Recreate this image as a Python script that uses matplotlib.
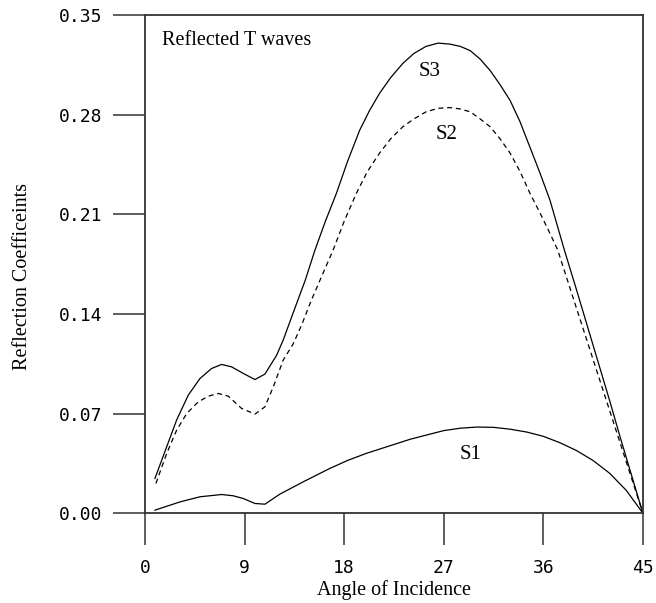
import numpy as np
import matplotlib
matplotlib.use("Agg")
import matplotlib.pyplot as plt

# S3 (solid, upper curve)
s3_x = [0.9, 1.96, 2.86, 3.91, 4.97, 6.03, 6.93, 7.83, 8.88, 9.94, 10.84, 11.9, 12.49,
        13.5, 14.5, 15.36, 16.3, 17.3, 18.3, 19.4, 20.3, 21.2, 22.2, 23.3, 24.3, 25.4,
        26.5, 27.55, 28.5, 29.4, 30.3, 31.2, 32.1, 33.0, 33.9, 34.8, 35.7, 36.6, 37.9,
        39.0, 40.0, 41.0, 42.0, 43.0, 44.0, 45.0]
s3_y = [0.0244, 0.0466, 0.0654, 0.0829, 0.0946, 0.1017, 0.1045, 0.1028, 0.0982, 0.0939,
        0.0977, 0.111, 0.1216, 0.143, 0.164, 0.1848, 0.205, 0.2247, 0.247, 0.269, 0.283,
        0.295, 0.306, 0.316, 0.323, 0.328, 0.3303, 0.3296, 0.328, 0.325, 0.319, 0.311,
        0.301, 0.290, 0.275, 0.257, 0.239, 0.220, 0.185, 0.157, 0.131, 0.105, 0.079,
        0.052, 0.026, 0.0]

# S2 (dashed)
s2_x = [0.99, 1.96, 2.86, 3.77, 4.82, 5.72, 6.62, 7.53, 8.73, 9.94, 10.84, 11.6, 12.49,
        13.4, 14.2, 15.0, 16.0, 17.0, 18.0, 19.1, 20.1, 21.2, 22.2, 23.3, 24.3, 25.4,
        26.5, 27.55, 28.5, 29.4, 30.3, 31.2, 32.1, 33.0, 33.9, 34.8, 35.7, 36.6, 37.3,
        38.5, 40.0, 41.5, 43.0, 45.0]
s2_y = [0.0209, 0.0419, 0.0583, 0.070, 0.0782, 0.0822, 0.0841, 0.0822, 0.0736, 0.0696,
        0.0747, 0.0888, 0.1075, 0.119, 0.133, 0.149, 0.167, 0.1848, 0.205, 0.2247, 0.240,
        0.253, 0.263, 0.2715, 0.277, 0.282, 0.2845, 0.285, 0.284, 0.282, 0.277, 0.2715,
        0.263, 0.253, 0.240, 0.2247, 0.211, 0.1966, 0.185, 0.156, 0.120, 0.084, 0.048,
        0.0]

# S1 (solid, lower curve)
s1_x = [0.9, 3.16, 4.97, 6.93, 7.98, 8.88, 9.94, 10.84, 12.2, 14.3, 16.7, 18.3, 20.0,
        22.0, 24.0, 25.5, 27.0, 28.5, 30.0, 31.5, 33.0, 34.5, 36.0, 37.5, 39.0, 40.5,
        42.0, 43.5, 45.0]
s1_y = [0.0021, 0.0079, 0.0115, 0.0131, 0.0122, 0.0103, 0.0068, 0.0063, 0.0134, 0.022,
        0.0314, 0.037, 0.042, 0.047, 0.052, 0.055, 0.058, 0.0597, 0.0605, 0.0603, 0.059,
        0.057, 0.054, 0.0495, 0.044, 0.037, 0.028, 0.016, 0.0]

x_ticks = [0, 9, 18, 27, 36, 45]
y_ticks = [0.00, 0.07, 0.14, 0.21, 0.28, 0.35]

serif = ["Liberation Serif", "DejaVu Serif"]
mono = ["DejaVu Sans Mono"]

fig = plt.figure(figsize=(6.56, 6.03), dpi=100)
ax = fig.add_axes([0.221, 0.149, 0.759, 0.826])

ax.plot(s3_x, s3_y, color="black", lw=0.9)
ax.plot(s2_x, s2_y, color="black", lw=0.9, ls=(0, (4, 3)))
ax.plot(s1_x, s1_y, color="black", lw=0.9)

ax.set_xlim(0, 45)
ax.set_ylim(0, 0.35)
ax.set_xticks(x_ticks)
ax.set_xticklabels([str(t) for t in x_ticks], family=mono, fontsize=13)
ax.set_yticks(y_ticks)
ax.set_yticklabels([f"{t:.2f}" for t in y_ticks], family=mono, fontsize=13)
ax.tick_params(axis="both", direction="out", length=23, width=1.1, color="#333333")
ax.tick_params(axis="x", pad=10)
ax.tick_params(axis="y", pad=8)
for sp in ax.spines.values():
    sp.set_linewidth(1.3)
    sp.set_color("#333333")

ax.set_xlabel("Angle of Incidence", family=serif, fontsize=14.5, labelpad=2)
ax.set_ylabel("Reflection Coefficeints", family=serif, fontsize=14.5)
ax.yaxis.set_label_coords(-0.226, 0.475)

ax.text(0.035, 0.968, "Reflected T waves", transform=ax.transAxes, family=serif,
        fontsize=14.5, va="top", ha="left")
ax.text(25.7, 0.310, "S3", family=serif, fontsize=15, ha="center", va="center")
ax.text(27.25, 0.266, "S2", family=serif, fontsize=15, ha="center", va="center")
ax.text(29.4, 0.041, "S1", family=serif, fontsize=15, ha="center", va="center")

fig.savefig("out.png", dpi=100)
